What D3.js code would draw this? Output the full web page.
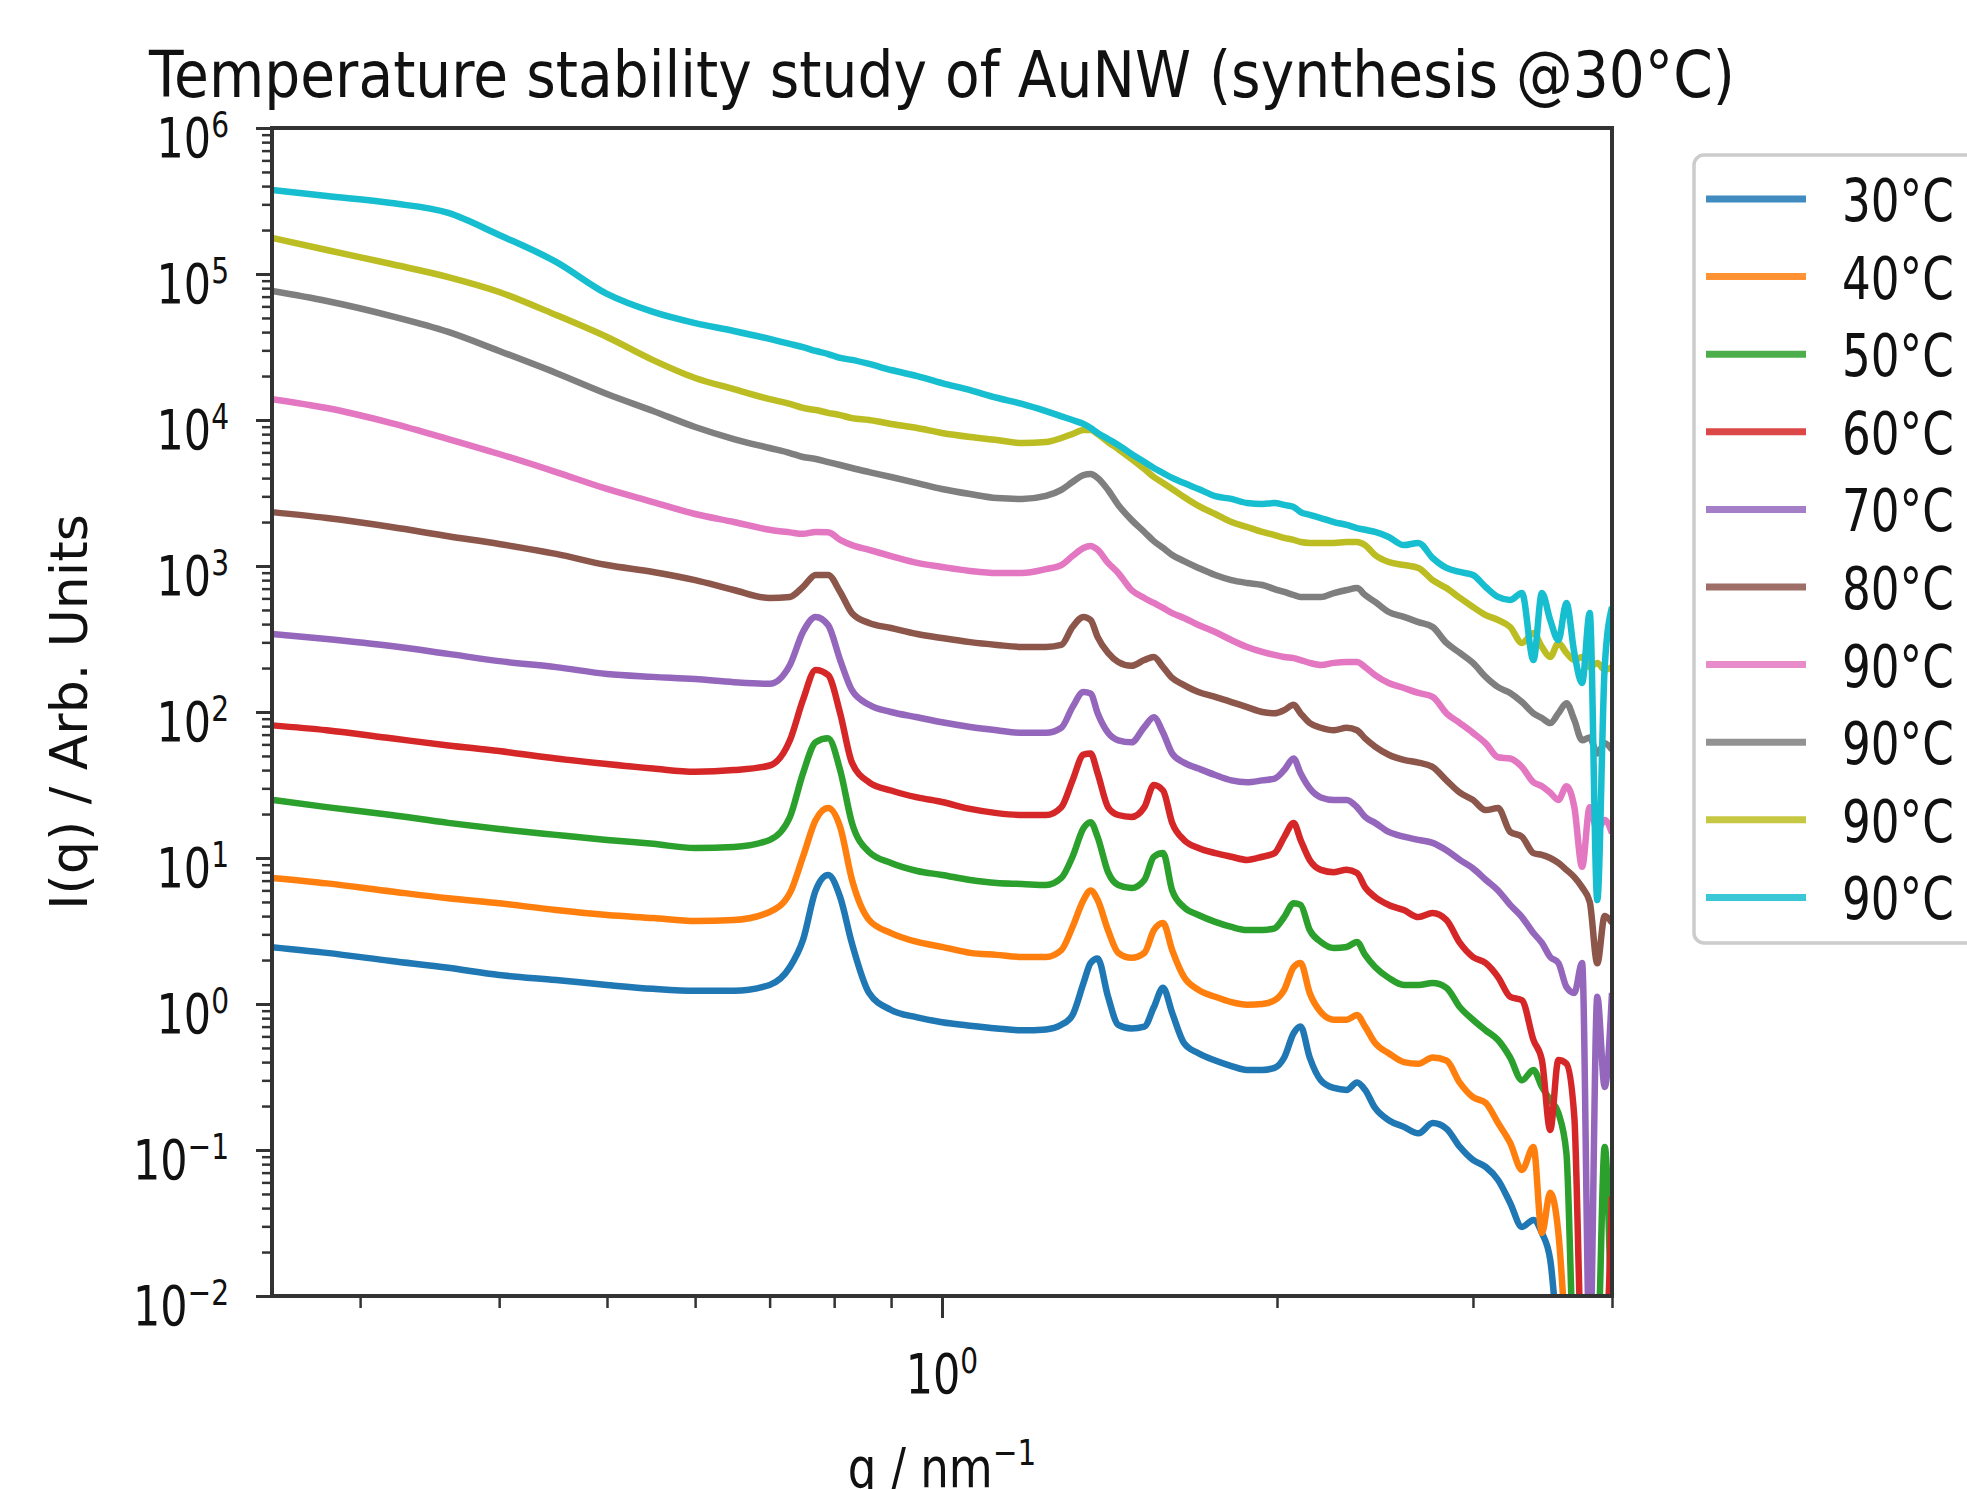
<!DOCTYPE html>
<html>
<head>
<meta charset="utf-8">
<script src="https://cdn.jsdelivr.net/npm/d3@7"></script>
<style>
  html, body { margin: 0; padding: 0; background: #fff; }
  svg { display: block; font-family: "DejaVu Sans", sans-serif; }
</style>
</head>
<body>
<svg id="chart" width="1967" height="1489"></svg>
<script>
// ---- data ----
// shared q grid, nm^-1
const q = [0.25, 0.28, 0.32, 0.36, 0.40, 0.45, 0.50, 0.55, 0.60, 0.65,
           0.70, 0.73, 0.75, 0.77, 0.79, 0.81, 0.83, 0.86, 0.90, 0.95,
           1.00, 1.06, 1.12, 1.18, 1.24, 1.28, 1.31, 1.34, 1.36, 1.38,
           1.41, 1.44, 1.48, 1.52, 1.55, 1.58, 1.61, 1.65, 1.70, 1.76,
           1.82, 1.88, 1.94, 1.99, 2.03, 2.07, 2.10, 2.14, 2.19, 2.25,
           2.31, 2.36, 2.40, 2.45, 2.52, 2.60, 2.68, 2.76, 2.84, 2.92,
           3.00, 3.08, 3.16, 3.24, 3.32, 3.40, 3.46, 3.52, 3.58, 3.64,
           3.70, 3.76, 3.82, 3.88, 3.94, 4.00];

const labels = ["30°C", "40°C", "50°C", "60°C", "70°C", "80°C", "90°C", "90°C", "90°C", "90°C"];
const colors = ["#1f77b4", "#ff7f0e", "#2ca02c", "#d62728", "#9467bd",
                "#8c564b", "#e377c2", "#7f7f7f", "#bcbd22", "#17becf"];

// I(q), arb. units (null = nothing drawn, values < 0.01 fall below the axis)
const i30 = [2.45, 2.24, 1.97, 1.77, 1.58, 1.46, 1.35, 1.27, 1.23, 1.23,
             1.35, 1.79, 2.74, 6.0, 7.65, 5.4, 2.6, 1.19, 0.91, 0.81,
             0.75, 0.71, 0.68, 0.66, 0.67, 0.72, 0.84, 1.39, 1.91, 2.05,
             1.12, 0.72, 0.68, 0.70, 0.95, 1.29, 0.87, 0.54, 0.46, 0.41,
             0.376, 0.353, 0.353, 0.365, 0.43, 0.63, 0.70, 0.43, 0.30, 0.266,
             0.258, 0.29, 0.258, 0.194, 0.16, 0.144, 0.13, 0.153, 0.14, 0.105,
             0.0855, 0.0766, 0.0623, 0.0434, 0.0297, 0.0332, 0.027, 0.0177, 0.004, null,
             null, null, null, null, null, null];
const i40 = [7.3, 6.7, 5.9, 5.3, 4.9, 4.4, 4.07, 3.88, 3.7, 3.76,
             4.27, 5.76, 10.2, 18.2, 22, 16.3, 7.1, 3.76, 3.06, 2.66,
             2.46, 2.24, 2.17, 2.1, 2.1, 2.34, 3.37, 5.15, 6.0, 5.15,
             3.2, 2.24, 2.07, 2.24, 3.2, 3.59, 2.34, 1.53, 1.25, 1.12,
             1.03, 0.99, 1.0, 1.06, 1.25, 1.79, 1.91, 1.19, 0.88, 0.78,
             0.78, 0.84, 0.70, 0.54, 0.46, 0.40, 0.39, 0.43, 0.41, 0.288,
             0.23, 0.21, 0.153, 0.112, 0.073, 0.105, 0.027, 0.051, 0.027, 0.004,
             null, null, null, null, null, null];
const i50 = [25, 22.3, 19.7, 17.4, 15.8, 14.4, 13.3, 12.5, 11.7, 11.9,
             13.3, 19.1, 38, 62, 66, 40, 17.4, 11, 9.25, 8.15,
             7.65, 7.07, 6.74, 6.64, 6.53, 7.3, 10.2, 16, 17.6, 13.9,
             8.0, 6.53, 6.23, 7.07, 10.2, 10.8, 6.0, 4.6, 4.07, 3.65,
             3.37, 3.21, 3.21, 3.3, 3.94, 4.9, 4.77, 3.21, 2.66, 2.42,
             2.46, 2.66, 2.17, 1.79, 1.51, 1.35, 1.35, 1.39, 1.29, 0.95,
             0.78, 0.66, 0.567, 0.43, 0.30, 0.353, 0.27, 0.22, 0.179, 0.095,
             0.004, 0.004, 0.004, 0.004, 0.105, 0.004];
const i60 = [81, 75, 66, 59, 54, 48, 44, 41, 39, 40,
             43, 64, 121, 194, 179, 98, 45, 33, 29, 26,
             24.2, 21.7, 20.3, 19.7, 19.7, 22.3, 34, 51, 52, 38,
             22.3, 19.7, 19.1, 22.3, 31.6, 29, 17.4, 13.3, 11.7, 10.8,
             10.2, 9.7, 10.2, 10.8, 13.9, 17.4, 13.3, 9.7, 8.3, 8.0,
             8.3, 7.9, 6.3, 5.4, 4.77, 4.4, 3.94, 4.2, 3.76, 2.62,
             2.1, 1.91, 1.53, 1.12, 1.06, 0.567, 0.413, 0.137, 0.413, 0.39,
             0.168, 0.004, 0.004, 0.004, 0.004, 0.048];
const i70 = [342, 316, 283, 250, 223, 203, 182, 174, 168, 160,
             156, 210, 353, 448, 394, 227, 141, 112, 100, 92,
             85, 79, 75, 72, 72, 78, 108, 137, 134, 98,
             72, 64, 62, 79, 92, 72, 52, 45, 41, 37,
             34, 33, 34, 35, 40, 48, 38, 30, 26, 25,
             25, 22.3, 19.1, 17.4, 15.1, 14, 13.3, 12.7, 11.3, 9.7,
             8.5, 7.1, 6.0, 4.77, 3.94, 3.06, 2.62, 2.1, 1.91, 1.31,
             1.19, 1.91, 0.004, 1.12, 0.27, 1.19];
const i80 = [2340, 2130, 1850, 1600, 1415, 1210, 1015, 910, 800, 685,
             604, 614, 718, 867, 867, 664, 476, 407, 376, 342,
             321, 301, 288, 279, 279, 288, 382, 448, 427, 326,
             254, 220, 207, 227, 238, 203, 171, 153, 137, 127,
             117, 108, 100, 98, 103, 112, 98, 84, 78, 75,
             78, 75, 66, 58, 51, 47, 45, 42, 34, 28,
             25, 21.3, 22, 15.1, 14, 10.8, 10.5, 10, 9.25, 8.3,
             7.4, 6.3, 5.0, 1.9, 4.0, 3.6];
const i90a = [13900, 12080, 9530, 7410, 5850, 4400, 3370, 2740, 2270, 2000,
              1770, 1700, 1660, 1710, 1700, 1510, 1390, 1290, 1170, 1050,
              985, 925, 896, 896, 953, 1015, 1170, 1330, 1370, 1290,
              1050, 896, 685, 604, 558, 516, 476, 441, 394, 353,
              311, 279, 258, 246, 238, 234, 227, 217, 210, 217,
              220, 220, 203, 179, 158, 146, 135, 127, 98, 84,
              72, 61, 49, 48, 42, 33, 31, 28, 25, 31,
              22.3, 8.7, 22.3, 15.5, 18.2, 14.8];
const i90b = [76500, 65300, 51500, 40100, 29700, 21000, 15070, 11530, 8960, 7410,
              6430, 5940, 5580, 5410, 5150, 4920, 4690, 4400, 4070, 3700,
              3370, 3110, 2920, 2880, 3020, 3320, 3760, 4200, 4270, 4010,
              3320, 2620, 2070, 1710, 1480, 1330, 1190, 1080, 970, 867,
              800, 765, 741, 695, 664, 633, 613, 613, 613, 653,
              685, 706, 633, 567, 484, 448, 413, 382, 297, 254,
              217, 174, 148, 135, 117, 98, 91, 84, 98, 115,
              88, 64, 67, 52, 61, 55];
const i90c = [176600, 146000, 117000, 95300, 75300, 52400, 37000, 25700, 19400, 16300,
              13900, 12900, 12100, 11700, 11200, 10800, 10300, 10000, 9400, 8810,
              8150, 7650, 7300, 6950, 7060, 7530, 8020, 8550, 8550, 8020,
              7060, 6330, 5410, 4610, 4070, 3700, 3370, 2970, 2580, 2270,
              2000, 1850, 1710, 1630, 1560, 1510, 1460, 1440, 1440, 1440,
              1460, 1460, 1390, 1190, 1065, 1015, 970, 800, 706, 604,
              524, 461, 427, 382, 297, 348, 279, 238, 297, 254,
              227, 238, 203, 217, 194, 203];
const i90d = [376000, 342000, 306000, 262000, 185000, 121000, 73000, 55000, 46100, 40700,
              35900, 33200, 31600, 29700, 28300, 26600, 25800, 24200, 22000, 20000,
              17900, 16000, 14200, 12900, 11500, 10600, 10000, 9400, 8800, 8150,
              7410, 6740, 5850, 5150, 4690, 4330, 4010, 3700, 3370, 3010,
              2880, 2700, 2660, 2700, 2620, 2540, 2340, 2240, 2130, 2000,
              1910, 1820, 1770, 1710, 1580, 1390, 1440, 1135, 970, 910,
              867, 718, 614, 585, 653, 227, 653, 427, 311, 558,
              254, 158, 476, 5.15, 203, 524];

const series = [i30, i40, i50, i60, i70, i80, i90a, i90b, i90c, i90d];

// ticks
const yMajor = [1e-2, 1e-1, 1e0, 1e1, 1e2, 1e3, 1e4, 1e5, 1e6];
const yExp = ["\u22122", "\u22121", "0", "1", "2", "3", "4", "5", "6"];
const xMajor = [1];
const xExp = ["0"];
const xMinor = [0.3, 0.4, 0.5, 0.6, 0.7, 0.8, 0.9, 2, 3, 4];

// ---- layout ----
const svg = d3.select("#chart");
const mL = 272, mR = 1612, mT = 128, mB = 1296;

const x = d3.scaleLog().domain([0.25, 4]).range([mL, mR]);
const y = d3.scaleLog().domain([1e-2, 1e6]).range([mB, mT]);

svg.append("rect").attr("width", 1967).attr("height", 1489).attr("fill", "#fff");

svg.append("defs").append("clipPath").attr("id", "plotclip")
  .append("rect")
  .attr("x", mL).attr("y", mT)
  .attr("width", mR - mL).attr("height", mB - mT);

// curves
const line = d3.line()
  .defined(d => d[1] != null)
  .x(d => x(d[0]))
  .y(d => y(d[1]))
  .curve(d3.curveMonotoneX);

const plot = svg.append("g").attr("clip-path", "url(#plotclip)");
series.forEach((s, i) => {
  plot.append("path")
    .datum(q.map((v, j) => [v, s[j]]))
    .attr("d", line)
    .attr("fill", "none")
    .attr("stroke", colors[i])
    .attr("stroke-width", 6.5)
    .attr("stroke-linejoin", "round");
});

// minor y ticks: 2..9 per decade
const yMinor = [];
for (let e = -2; e < 6; e++) for (let k = 2; k < 10; k++) yMinor.push(k * Math.pow(10, e));

function styleAxis(g, w) {
  g.select(".domain").remove();
  g.selectAll(".tick line").attr("stroke", "#333").attr("stroke-width", w);
}

svg.append("g").attr("transform", `translate(${mL},0)`)
  .call(d3.axisLeft(y).tickValues(yMinor).tickSize(10).tickFormat(""))
  .call(g => styleAxis(g, 2.5));
svg.append("g").attr("transform", `translate(${mL},0)`)
  .call(d3.axisLeft(y).tickValues(yMajor).tickSize(16).tickFormat(""))
  .call(g => styleAxis(g, 3));
svg.append("g").attr("transform", `translate(0,${mB})`)
  .call(d3.axisBottom(x).tickValues(xMinor).tickSize(12).tickFormat(""))
  .call(g => styleAxis(g, 2.5));
svg.append("g").attr("transform", `translate(0,${mB})`)
  .call(d3.axisBottom(x).tickValues(xMajor).tickSize(22).tickFormat(""))
  .call(g => styleAxis(g, 3));

// frame
svg.append("rect")
  .attr("x", mL).attr("y", mT)
  .attr("width", mR - mL).attr("height", mB - mT)
  .attr("fill", "none").attr("stroke", "#333").attr("stroke-width", 4);

// text helper: glyphs in the picture are narrower than the font, so squeeze x
function sqText(px, py, sx, anchor) {
  return svg.append("text")
    .attr("transform", `translate(${px},${py}) scale(${sx},1)`)
    .attr("text-anchor", anchor)
    .attr("fill", "#111");
}

function powerLabel(t, base, exp, fs, sfs, raise) {
  t.append("tspan").attr("font-size", fs).text(base);
  t.append("tspan").attr("font-size", sfs).attr("dy", -raise).text(exp);
}

// y tick labels
yMajor.forEach((v, i) => {
  const t = sqText(229, y(v) + 29, 0.78, "end");
  powerLabel(t, "10", yExp[i], 55, 36, 20);
});

// x tick labels
xMajor.forEach((v, i) => {
  const t = sqText(x(v), 1393, 0.78, "middle");
  powerLabel(t, "10", xExp[i], 55, 36, 20);
});

// axis labels
const xl = sqText((mL + mR) / 2, 1487, 0.82, "middle");
powerLabel(xl, "q / nm", "\u22121", 55, 36, 22);

svg.append("text")
  .attr("transform", `translate(87,${(mT + mB) / 2}) rotate(-90)`)
  .attr("text-anchor", "middle")
  .attr("font-size", 52)
  .attr("fill", "#111")
  .text("I(q) / Arb. Units");

// title
sqText((mL + mR) / 2, 97, 0.886, "middle")
  .attr("font-size", 64)
  .text("Temperature stability study of AuNW (synthesis @30\u00b0C)");

// legend
const lg = svg.append("g");
lg.append("rect")
  .attr("x", 1694).attr("y", 155)
  .attr("width", 400).attr("height", 788)
  .attr("rx", 10)
  .attr("fill", "#fff").attr("fill-opacity", 0.8)
  .attr("stroke", "#cccccc").attr("stroke-width", 3.5);

labels.forEach((lab, i) => {
  const cy = 199 + i * 77.6;
  lg.append("line")
    .attr("x1", 1706).attr("x2", 1806)
    .attr("y1", cy).attr("y2", cy)
    .attr("stroke", colors[i]).attr("stroke-width", 7)
    .attr("stroke-opacity", 0.85);
  sqText(1842, cy + 22, 0.78, "start")
    .attr("font-size", 58)
    .text(lab);
});
</script>
</body>
</html>
